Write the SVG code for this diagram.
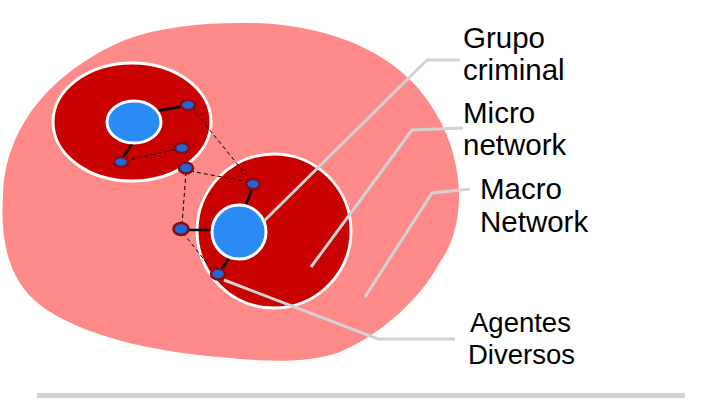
<svg xmlns="http://www.w3.org/2000/svg" width="720" height="405" viewBox="0 0 720 405">
<style>
.macro{fill:#FF8A8A}
.micro{fill:#C80000;stroke:#FFFFFF;stroke-width:3}
.core{fill:#2A8CF2;stroke:#FFFFFF;stroke-width:3}
.agent{fill:#2168D6;stroke:#8A0A14;stroke-width:2.5}
.tie{stroke:#000000;stroke-width:2.5;fill:none}
.weak{stroke:#000000;stroke-width:1;stroke-dasharray:4 3;fill:none}
.leader{stroke:#D2D2D2;stroke-width:3;fill:none}
.lbl{font-family:"Liberation Sans",Arial,sans-serif;font-size:29.5px;fill:#000000}
.lbl2{font-family:"Liberation Sans",Arial,sans-serif;font-size:27.5px;fill:#000000}
</style>
<rect width="720" height="405" fill="#FFFFFF"/>
<g id="macro-network">
<path class="macro" d="M240,23 C335,22 405,58 435,112 C465,160 467,225 440,262 C420,300 380,335 340,352 C310,363 270,362 230,358 C150,352 80,335 40,305 C8,280 0,240 3,195 C5,128 50,72 125,40 C160,27 200,23 240,23 Z"/>
</g>
<g id="micro-network-1">
<ellipse class="micro" cx="132" cy="122" rx="79" ry="59"/>
</g>
<g id="micro-network-2">
<circle class="micro" cx="274" cy="231" r="77"/>
</g>
<g id="connectors">
<line class="weak" x1="192" y1="108" x2="251" y2="181"/>
<line class="weak" x1="124" y1="161" x2="178" y2="149"/>
<line class="weak" x1="190" y1="171" x2="249" y2="182"/>
<line class="weak" x1="186" y1="172" x2="182" y2="225"/>
<line class="weak" x1="183" y1="233" x2="214" y2="272"/>
<line class="tie" x1="152" y1="112" x2="184" y2="106"/>
<line class="tie" x1="133" y1="142" x2="121" y2="161"/>
<line class="tie" x1="245" y1="207" x2="253" y2="186"/>
<line class="tie" x1="213" y1="230" x2="183" y2="230"/>
<line class="tie" x1="231" y1="255" x2="219" y2="273"/>
</g>
<g id="grupo-criminal-1">
<ellipse class="core" cx="134" cy="122" rx="27" ry="21"/>
</g>
<g id="grupo-criminal-2">
<circle class="core" cx="239" cy="232" r="27"/>
</g>
<g id="agents">
<ellipse class="agent" cx="188" cy="105" rx="7" ry="5"/>
<ellipse class="agent" cx="121" cy="162" rx="7" ry="5"/>
<ellipse class="agent" cx="182" cy="148" rx="7" ry="5"/>
<ellipse class="agent" cx="186" cy="168" rx="7" ry="5.5"/>
<ellipse class="agent" cx="253" cy="184" rx="7" ry="5"/>
<ellipse class="agent" cx="181" cy="229" rx="7.5" ry="6"/>
<ellipse class="agent" cx="218" cy="274" rx="7" ry="5.5"/>
</g>
<g id="leaders">
<polyline class="leader" points="264,221 427,60 460,60"/>
<polyline class="leader" points="311,267 412,130 463,128"/>
<polyline class="leader" points="365,297 432,193 470,189"/>
<polyline class="leader" points="224,280 378,339 455,339"/>
</g>
<g id="labels">
<text class="lbl" x="463" y="48">Grupo</text>
<text class="lbl" x="463" y="80">criminal</text>
<text class="lbl" x="463" y="123">Micro</text>
<text class="lbl" x="463" y="155">network</text>
<text class="lbl" x="480" y="199">Macro</text>
<text class="lbl" x="480" y="232">Network</text>
<text class="lbl2" x="470" y="332">Agentes</text>
<text class="lbl2" x="468" y="364">Diversos</text>
</g>
<g id="footer">
<rect x="37" y="393" width="648" height="5" fill="#D0D4D4"/>
</g>
</svg>
